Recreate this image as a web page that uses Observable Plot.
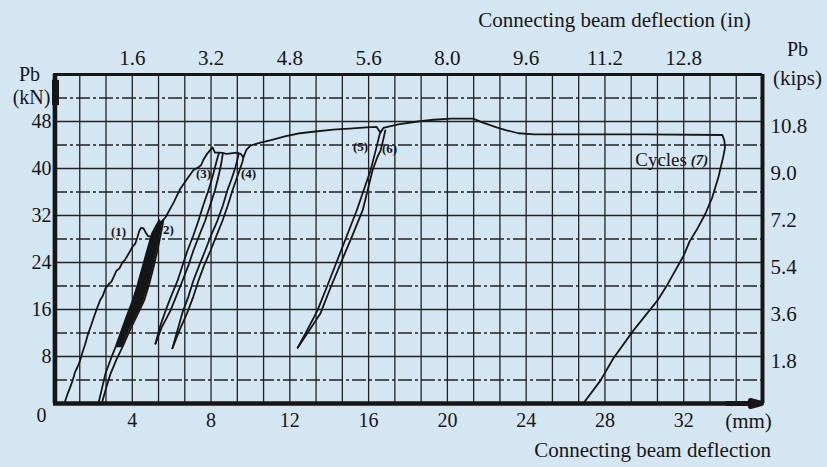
<!DOCTYPE html>
<html><head><meta charset="utf-8">
<script src="https://cdn.jsdelivr.net/npm/d3@7"></script>
<script src="https://cdn.jsdelivr.net/npm/@observablehq/plot@0.6"></script>
<style>
html,body{margin:0;padding:0;background:#d5e6f3;}
</style></head><body><div id="chart"></div>
<script>
// ---- tick labels ----
const mmTicks = [4, 8, 12, 16, 20, 24, 28, 32];
const inTickLabels = ["1.6", "3.2", "4.8", "5.6", "8.0", "9.6", "11.2", "12.8"];
const kNTicks = [8, 16, 24, 32, 40, 48];
const kipsTickLabels = ["1.8", "3.6", "5.4", "7.2", "9.0", "10.8"];

// ---- curve data: [deflection mm, Pb kN] ----
const firstLoading = [[0.55,0],[0.7,1.5],[0.84,2.7],[0.98,4.0],[1.1,5.4],[1.23,6.3],[1.35,7.3],[1.48,8.8],[1.6,10.0],[1.76,11.9],[1.9,13.2],[2.04,14.6],[2.22,16.3],[2.37,17.6],[2.5,18.3],[2.64,19.6],[2.8,20.3],[2.95,20.8],[3.05,21.5],[3.2,22.6],[3.35,23.0],[3.5,24.0],[3.62,24.4],[3.76,25.2],[3.9,26.0],[4.0,26.6],[4.15,27.2],[4.26,28.3],[4.36,29.4],[4.45,29.9],[4.57,29.8],[4.68,29.1],[4.8,28.5],[4.95,28.4],[5.08,28.6],[5.2,29.2]];
const bandLeft = [[2.28,0],[2.45,2.4],[2.64,5.1],[2.9,7.5],[3.15,9.6],[3.4,11.9],[3.7,14.7],[4.02,17.5],[4.27,20.2],[4.52,23.2],[4.76,26.1],[5.0,28.9],[5.22,30.3],[5.38,31.2]];
const bandRight = [[2.45,0],[2.65,2.4],[2.9,5.1],[3.2,7.5],[3.5,9.6],[3.8,11.9],[4.2,14.7],[4.6,17.5],[4.85,20.2],[5.08,23.2],[5.28,26.1],[5.45,28.9],[5.53,30.3],[5.58,31.2]];
const bandFillY  = [9.5, 12, 14.7, 17.5, 20.2, 23.2, 26.1, 28.9, 31];
const bandFillX1 = [3.2, 3.42, 3.72, 4.04, 4.29, 4.54, 4.78, 5.02, 5.36];
const bandFillX2 = [3.5, 3.8, 4.2, 4.6, 4.85, 5.08, 5.28, 5.45, 5.57];
const mainCurve = [[5.5,31],[5.69,31.7],[5.9,33],[6.1,34.2],[6.3,35.6],[6.45,36.6],[6.8,38.3],[7.1,39.7],[7.36,40.2],[7.5,40.6],[7.6,41.4],[7.8,42.5],[8.07,43.6],[8.2,42.7],[8.48,42.7],[8.8,42.5],[9.3,42.7],[9.5,42.5],[9.64,41.9],[9.8,43.2],[10.0,43.9],[10.5,44.4],[11.0,44.8],[11.8,45.5],[12.5,46],[13.3,46.3],[14.2,46.6],[15.0,46.8],[15.9,47],[16.4,47.1],[16.6,46.1],[16.75,46.9],[17.5,47.5],[18.5,48],[19.3,48.3],[20.2,48.5],[21.3,48.5],[21.8,47.8],[22.5,47],[23.0,46.5],[23.6,46],[24.4,45.8],[25.7,45.8],[30,45.8],[33.96,45.7],[34.06,44.8],[34.1,43.6],[34.0,41.9],[33.76,38.5],[33.45,35.1],[33.1,32.3],[32.7,29.8],[32.3,27.6],[32.0,25.2],[31.2,20.4],[30.66,17.5],[29.44,12.4],[28.43,7.7],[27.77,3.9],[26.9,0]];
const loop3Left  = [[5.18,10.2],[5.4,13],[5.69,15.8],[6.0,18.5],[6.3,20.9],[6.55,23.5],[6.8,26],[7.1,28.6],[7.36,31.1],[7.6,33.7],[7.87,36.3],[8.05,38.3],[8.2,40.2],[8.3,41.5],[8.4,42.6]];
const loop3Right = [[5.18,10.2],[5.5,13],[5.94,15.8],[6.25,18.4],[6.55,20.9],[6.85,23.5],[7.1,26],[7.4,28.6],[7.7,31.1],[7.95,33.7],[8.2,36.3],[8.35,38.3],[8.48,40.2],[8.55,41.5],[8.6,42.6]];
const loop4Left  = [[6.04,9.4],[6.3,12.5],[6.55,15.5],[6.85,18.2],[7.1,20.9],[7.4,23.5],[7.7,26],[8.0,28.6],[8.32,31.1],[8.6,33.7],[8.83,36.3],[9.05,38.3],[9.24,40.2],[9.33,41.4],[9.4,42.5]];
const loop4Right = [[6.04,9.4],[6.4,12.5],[6.8,15.5],[7.1,18.2],[7.36,20.9],[7.65,23.5],[7.97,26],[8.28,28.6],[8.58,31.1],[8.85,33.7],[9.09,36.3],[9.3,38.3],[9.5,40.2],[9.6,41.2],[9.64,41.9]];
const loop56Left  = [[12.4,9.5],[12.9,12.6],[13.4,15.8],[13.9,20],[14.4,24.3],[14.9,28.6],[15.4,32.9],[15.75,36.3],[16.1,39.7],[16.4,43.6],[16.5,45],[16.6,46.3]];
const loop56Right = [[12.4,9.5],[13.0,12.5],[13.55,15.3],[14.1,20],[14.7,24.8],[15.2,28.8],[15.7,32.9],[15.95,36.3],[16.2,39.7],[16.45,42],[16.6,43],[16.75,45],[16.85,46.5]];

// ---- in-chart labels ----
const cycleLabels = [
  {x: 3.30, y: 29.3, t: "(1)"}, {x: 5.84, y: 29.6, t: "2)"},
  {x: 7.62, y: 39.1, t: "(3)"}, {x: 9.90, y: 39.1, t: "(4)"},
  {x: 15.59, y: 43.7, t: "(5)"}, {x: 17.06, y: 43.4, t: "(6)"}
];
const cyclesWord = [{x: 30.85, y: 41.4, t: "Cycles"}];
const cycle7 = [{x: 32.8, y: 41.4, t: "(7)"}];

// ---- grid ----
const vGrid = d3.range(0, 28).map(i => i * 4 / 3);
const hGrid = d3.range(4, 56, 4);
const hSolid = hGrid.filter(v => v % 8 === 0);
const hDashed = hGrid.filter(v => v % 8 !== 0);

const bandFill = bandFillY.map((y, i) => ({y, x1: bandFillX1[i], x2: bandFillX2[i]}));

const FONT = "Liberation Serif";
const INK = "#161616";
const lineOpts = {x: d => d[0], y: d => d[1], stroke: INK, strokeWidth: 1.8, strokeLinejoin: "round"};

const plot = Plot.plot({
  width: 827, height: 467,
  marginLeft: 53, marginRight: 65, marginTop: 74, marginBottom: 64,
  x: {domain: [0, 36]},
  y: {domain: [0, 56]},
  style: {background: "#d5e6f3", fontFamily: FONT, color: INK, overflow: "visible"},
  marks: [
    Plot.ruleX(vGrid, {stroke: "#222", strokeWidth: 1.3}),
    Plot.ruleY(hSolid, {stroke: "#222", strokeWidth: 1.6}),
    Plot.ruleY(hDashed, {stroke: "#222", strokeWidth: 1.4, strokeDasharray: "14,3,3,3"}),
    // curves
    Plot.areaX(bandFill, {y: "y", x1: "x1", x2: "x2", fill: INK}),
    Plot.line(bandLeft, lineOpts),
    Plot.line(bandRight, lineOpts),
    Plot.line(firstLoading, lineOpts),
    Plot.line(mainCurve, lineOpts),
    Plot.line(loop3Left, lineOpts),
    Plot.line(loop3Right, lineOpts),
    Plot.line(loop4Left, lineOpts),
    Plot.line(loop4Right, lineOpts),
    Plot.line(loop56Left, lineOpts),
    Plot.line(loop56Right, lineOpts),
    // frame
    Plot.ruleY([56], {stroke: INK, strokeWidth: 3}),
    Plot.ruleX([36], {stroke: INK, strokeWidth: 4}),
    Plot.ruleY([0], {stroke: INK, strokeWidth: 4.5}),
    Plot.ruleX([0], {stroke: INK, strokeWidth: 4.5, dx: 1.5}),
    Plot.ruleX([0], {y1: 50.7, y2: 55, stroke: INK, strokeWidth: 7, dx: 2}),
    Plot.arrow([0], {x1: 34.2, y1: 0, x2: 35.95, y2: 0, stroke: INK, strokeWidth: 5, headLength: 22, headAngle: 30}),
    // axes
    Plot.axisX(mmTicks, {anchor: "bottom", label: null, tickSize: 0, tickPadding: 9, fontSize: 20, fontFamily: FONT}),
    Plot.axisX(mmTicks, {anchor: "top", label: null, tickSize: 0, tickPadding: 10, fontSize: 21, fontFamily: FONT,
      tickFormat: d => inTickLabels[mmTicks.indexOf(d)]}),
    Plot.axisY(kNTicks, {anchor: "left", label: null, tickSize: 0, tickPadding: 2, fontSize: 20, fontFamily: FONT}),
    Plot.axisY(kNTicks, {anchor: "right", label: null, tickSize: 0, tickPadding: 8, fontSize: 21, fontFamily: FONT, dy: 5,
      tickFormat: d => kipsTickLabels[kNTicks.indexOf(d)]}),
    Plot.text(["0"], {frameAnchor: "bottom-left", dx: -12, dy: 12, text: d => d, fontSize: 20, textAnchor: "middle", lineAnchor: "middle"}),
    // titles
    Plot.text(["Connecting beam deflection (in)"], {frameAnchor: "top-left", dx: 561, dy: -54, text: d => d, fontSize: 21, textAnchor: "middle", lineAnchor: "middle"}),
    Plot.text(["Pb"], {frameAnchor: "top-left", dx: -24, dy: 0, text: d => d, fontSize: 20, textAnchor: "middle", lineAnchor: "middle"}),
    Plot.text(["(kN)"], {frameAnchor: "top-left", dx: -22, dy: 23, text: d => d, fontSize: 20, textAnchor: "middle", lineAnchor: "middle"}),
    Plot.text(["Pb"], {frameAnchor: "top-left", dx: 744, dy: -25, text: d => d, fontSize: 20, textAnchor: "middle", lineAnchor: "middle"}),
    Plot.text(["(kips)"], {frameAnchor: "top-left", dx: 744, dy: 4, text: d => d, fontSize: 21, textAnchor: "middle", lineAnchor: "middle"}),
    Plot.text(["(mm)"], {frameAnchor: "bottom-left", dx: 695, dy: 18, text: d => d, fontSize: 21, textAnchor: "middle", lineAnchor: "middle"}),
    Plot.text(["Connecting beam deflection"], {frameAnchor: "bottom-left", dx: 599, dy: 47, text: d => d, fontSize: 21, textAnchor: "middle", lineAnchor: "middle"}),
    // cycle labels
    Plot.text(cycleLabels, {x: "x", y: "y", text: "t", fontSize: 13, fontWeight: "bold", fill: INK}),
    Plot.text(cyclesWord, {x: "x", y: "y", text: "t", fontSize: 19, fill: INK}),
    Plot.text(cycle7, {x: "x", y: "y", text: "t", fontSize: 15, fontWeight: "bold", fontStyle: "italic", fill: INK})
  ]
});
document.getElementById("chart").appendChild(plot);
</script>
</body></html>
